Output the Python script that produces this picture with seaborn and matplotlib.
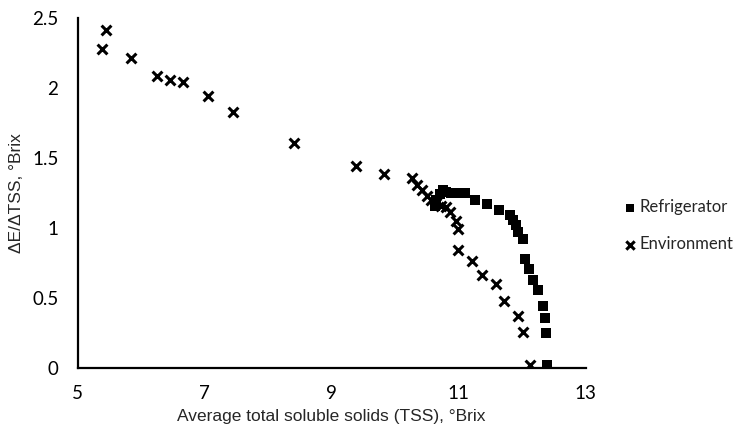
import numpy as np
import pandas as pd
import matplotlib
matplotlib.use("Agg")
import matplotlib.pyplot as plt
import seaborn as sns

# data
fridge_tss = [10.62, 10.65, 10.70, 10.75, 10.80, 10.88, 10.95, 11.02, 11.10,
              11.25, 11.44, 11.63, 11.80, 11.86, 11.90, 11.94, 12.01, 12.05,
              12.11, 12.17, 12.25, 12.33, 12.36, 12.38, 12.39]
fridge_ratio = [1.16, 1.20, 1.24, 1.27, 1.26, 1.25, 1.25, 1.25, 1.25,
                1.20, 1.17, 1.13, 1.09, 1.06, 1.02, 0.97, 0.92, 0.78,
                0.71, 0.63, 0.56, 0.445, 0.36, 0.25, 0.02]

env_tss = [5.38, 5.44, 5.84, 6.24, 6.45, 6.65, 7.05, 7.44, 8.41, 9.38, 9.83,
           10.27, 10.35, 10.42, 10.50, 10.57, 10.64, 10.72, 10.80, 10.86,
           10.96, 10.99, 10.99, 11.21, 11.36, 11.58, 11.71, 11.94, 12.01, 12.13]
env_ratio = [2.28, 2.41, 2.216, 2.086, 2.055, 2.04, 1.945, 1.826, 1.609, 1.445, 1.388,
             1.355, 1.31, 1.27, 1.23, 1.20, 1.18, 1.16, 1.15, 1.116,
             1.05, 0.99, 0.843, 0.766, 0.664, 0.597, 0.478, 0.371, 0.259, 0.02]

fridge = pd.DataFrame({"tss": fridge_tss, "ratio": fridge_ratio})
env = pd.DataFrame({"tss": env_tss, "ratio": env_ratio})

sns.set_style("white")
plt.rcParams['font.family'] = ['Lato', 'DejaVu Sans']

fig = plt.figure(figsize=(7.48, 4.34), dpi=100)
ax = fig.add_axes([0.104, 0.152, 0.679, 0.807])

sns.scatterplot(data=fridge, x="tss", y="ratio", marker="s", color="black",
                s=55, linewidth=0, label="Refrigerator", ax=ax)
sns.scatterplot(data=env, x="tss", y="ratio", marker="x", color="black",
                s=50, linewidth=2.2, label="Environment", ax=ax)

ax.set_xlim(5, 13)
ax.set_ylim(0, 2.5)
ax.set_xticks([5, 7, 9, 11, 13])
ax.set_yticks([0, 0.5, 1, 1.5, 2, 2.5])
ax.set_yticklabels(["0", "0.5", "1", "1.5", "2", "2.5"])
ax.tick_params(axis="both", direction="out", length=5, width=1.2,
               labelsize=13.5, colors="black")
ax.tick_params(axis="x", pad=7)
ax.tick_params(axis="y", pad=9)
for side in ["top", "right"]:
    ax.spines[side].set_visible(False)
for side in ["left", "bottom"]:
    ax.spines[side].set_color("black")
    ax.spines[side].set_linewidth(1.6)

ax.set_xlabel("Average total soluble solids (TSS), °Brix",
              fontsize=12.5, family=['Liberation Sans', 'DejaVu Sans'], labelpad=5)
ax.set_ylabel("ΔE/ΔTSS, °Brix",
              fontsize=12.5, family=['Liberation Sans', 'DejaVu Sans'], labelpad=6)

leg = ax.legend(loc="center left", bbox_to_anchor=(0.815, 0.48),
                bbox_transform=fig.transFigure, frameon=False,
                fontsize=12, handlelength=0.6, handletextpad=0.3,
                labelspacing=1.25, markerscale=0.85)

fig.savefig("out.png", dpi=100)
